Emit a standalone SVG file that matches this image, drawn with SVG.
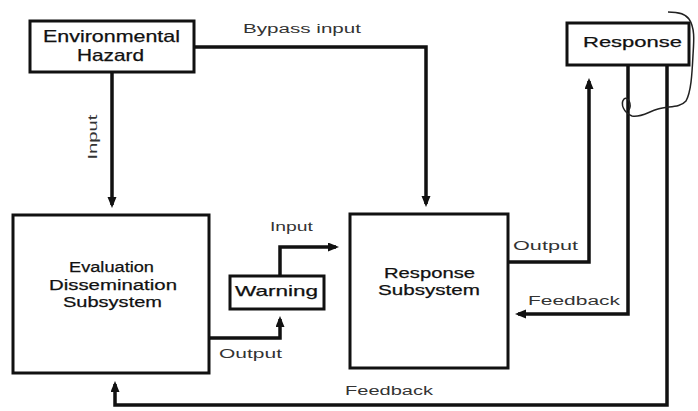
<svg xmlns="http://www.w3.org/2000/svg" width="698" height="411" viewBox="0 0 698 411">
<defs>
<style>
.box{fill:#fff;stroke:#111;stroke-width:3}
.ln{fill:none;stroke:#111;stroke-width:3.5;stroke-linejoin:miter}
.t{font-family:"Liberation Sans",Arial,sans-serif;fill:#111;stroke:#111;stroke-width:0.25}
.lab{font-family:"Liberation Sans",Arial,sans-serif;fill:#333;font-size:12.5px}
</style>
<marker id="ah" markerUnits="userSpaceOnUse" markerWidth="12" markerHeight="10" refX="8" refY="4.5" orient="auto">
<path d="M0,0 L11,4.5 L0,9 z" fill="#111"/>
</marker>
</defs>
<rect width="698" height="411" fill="#fff"/>

<g id="connectors">
<path class="ln" d="M112,72 V205" marker-end="url(#ah)"/>
<path class="ln" d="M194,47 H426 V204" marker-end="url(#ah)"/>
<path class="ln" d="M209,338 H280 V319" marker-end="url(#ah)"/>
<path class="ln" d="M280,276 V247 H336" marker-end="url(#ah)"/>
<path class="ln" d="M508,262 H589 V81" marker-end="url(#ah)"/>
<path class="ln" d="M628,65 V314 H518" marker-end="url(#ah)"/>
<path class="ln" d="M667,65 V405 H115 V384" marker-end="url(#ah)"/>
<text class="lab" x="243" y="33" textLength="118" lengthAdjust="spacingAndGlyphs">Bypass input</text>
<text class="lab" transform="translate(97,137) rotate(-90)" text-anchor="middle" textLength="45" lengthAdjust="spacingAndGlyphs">Input</text>
<text class="lab" x="270" y="231" textLength="43" lengthAdjust="spacingAndGlyphs">Input</text>
<text class="lab" x="219" y="358" textLength="63" lengthAdjust="spacingAndGlyphs">Output</text>
<text class="lab" x="513" y="250" textLength="65" lengthAdjust="spacingAndGlyphs">Output</text>
<text class="lab" x="528" y="305" textLength="92" lengthAdjust="spacingAndGlyphs">Feedback</text>
<text class="lab" x="345" y="395" textLength="88" lengthAdjust="spacingAndGlyphs">Feedback</text>
</g>

<g id="environmental-hazard">
<rect class="box" x="30" y="21" width="164" height="51"/>
<text class="t" font-size="16.5" x="43" y="42" textLength="137" lengthAdjust="spacingAndGlyphs">Environmental</text>
<text class="t" font-size="16.5" x="77" y="61" textLength="67" lengthAdjust="spacingAndGlyphs">Hazard</text>
</g>

<g id="evaluation-dissemination-subsystem">
<rect class="box" x="13" y="215" width="196" height="158"/>
<text class="t" font-size="15.5" x="69" y="272" textLength="85" lengthAdjust="spacingAndGlyphs">Evaluation</text>
<text class="t" font-size="15.5" x="49" y="290" textLength="128" lengthAdjust="spacingAndGlyphs">Dissemination</text>
<text class="t" font-size="15.5" x="63" y="307" textLength="99" lengthAdjust="spacingAndGlyphs">Subsystem</text>
</g>

<g id="warning">
<rect class="box" x="230" y="276" width="94" height="33"/>
<text class="t" font-size="15" x="235" y="296" textLength="83" lengthAdjust="spacingAndGlyphs">Warning</text>
</g>

<g id="response-subsystem">
<rect class="box" x="350" y="214" width="158" height="154"/>
<text class="t" font-size="14.5" x="384" y="278" textLength="91" lengthAdjust="spacingAndGlyphs">Response</text>
<text class="t" font-size="14.5" x="378" y="295" textLength="102" lengthAdjust="spacingAndGlyphs">Subsystem</text>
</g>

<g id="response">
<rect class="box" x="567" y="23" width="122" height="42"/>
<text class="t" font-size="15" x="583" y="47" textLength="99" lengthAdjust="spacingAndGlyphs">Response</text>
</g>

<path d="M668,12 C678,12 686,14 689,19 C695,28 694,40 693,55 C692,75 691,92 686,101 C680,108 668,106 658,109 C648,112 640,118 632,116 C624,113 620,104 624,99 C628,96 632,104 629,110" fill="none" stroke="#222" stroke-width="1.5"/>
</svg>
